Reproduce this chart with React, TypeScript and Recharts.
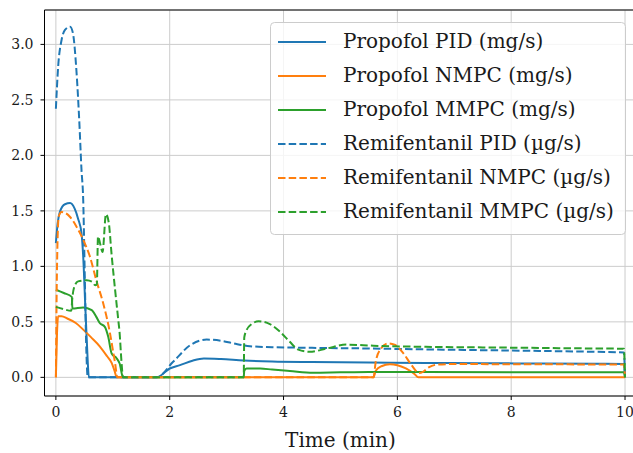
import React from "react";
import { LineChart, Line, XAxis, YAxis, CartesianGrid, ReferenceLine } from "recharts";

// ---- Data (time in min, values per series) ----
const propPidT = [0, 0.03, 0.07, 0.16, 0.25, 0.33, 0.39, 0.45, 0.48, 0.52, 0.55, 0.58, 1.77, 2.0, 2.18, 2.4, 2.6, 2.9, 3.3, 3.8, 4.5, 5.5, 6.5, 7.5, 8.5, 9.5, 9.98, 10];
const propPidV = [1.21, 1.38, 1.49, 1.56, 1.57, 1.52, 1.43, 1.3, 1.09, 0.6, 0.25, 0, 0, 0.08, 0.11, 0.15, 0.17, 0.165, 0.152, 0.143, 0.138, 0.134, 0.13, 0.127, 0.125, 0.122, 0.12, 0];

const propNmpcT = [0, 0.02, 0.04, 0.1, 0.2, 0.35, 0.48, 0.62, 0.77, 0.9, 0.98, 1.03, 1.07, 5.58, 5.62, 5.72, 5.87, 6.0, 6.15, 6.3, 6.37, 10];
const propNmpcV = [0, 0.4, 0.55, 0.55, 0.53, 0.49, 0.43, 0.36, 0.28, 0.19, 0.13, 0.06, 0, 0, 0.06, 0.1, 0.117, 0.11, 0.08, 0.03, 0, 0];

const propMmpcT = [0, 0.14, 0.28, 0.29, 0.48, 0.63, 0.71, 0.77, 0.86, 0.92, 0.98, 1.07, 1.12, 1.18, 3.3, 3.31, 3.35, 3.59, 3.8, 4.11, 4.52, 5.0, 5.5, 6.5, 8, 9.98, 10];
const propMmpcV = [0.79, 0.76, 0.725, 0.62, 0.63, 0.605, 0.545, 0.49, 0.455, 0.365, 0.215, 0.17, 0.125, 0, 0, 0.06, 0.08, 0.08, 0.07, 0.057, 0.041, 0.045, 0.048, 0.048, 0.047, 0.046, 0];

const remiPidT = [0, 0.04, 0.1, 0.16, 0.25, 0.3, 0.36, 0.41, 0.45, 0.48, 0.51, 0.53, 0.56, 1.77, 2.06, 2.36, 2.65, 2.9, 3.12, 3.41, 3.8, 4.5, 5.5, 6.5, 7.5, 8.5, 9.5, 9.98, 10];
const remiPidV = [2.42, 2.8, 3.04, 3.13, 3.16, 3.1, 2.77, 2.32, 1.87, 1.6, 0.85, 0.34, 0, 0, 0.14, 0.29, 0.34, 0.33, 0.306, 0.28, 0.272, 0.266, 0.26, 0.252, 0.245, 0.238, 0.23, 0.225, 0];

const remiNmpcT = [0, 0.02, 0.05, 0.1, 0.25, 0.36, 0.48, 0.6, 0.71, 0.83, 0.95, 1.0, 1.04, 1.08, 5.58, 5.62, 5.7, 5.84, 5.95, 6.1, 6.25, 6.38, 6.45, 6.55, 6.7, 7, 8, 9, 9.98, 10];
const remiNmpcV = [0, 1.0, 1.45, 1.49, 1.445, 1.36, 1.24, 1.085, 0.875, 0.67, 0.4, 0.25, 0.13, 0, 0, 0.14, 0.25, 0.306, 0.295, 0.22, 0.11, 0.04, 0.05, 0.09, 0.115, 0.12, 0.118, 0.117, 0.116, 0];

const remiMmpcT = [0, 0.13, 0.27, 0.29, 0.32, 0.39, 0.54, 0.64, 0.69, 0.72, 0.74, 0.78, 0.82, 0.88, 0.93, 0.98, 1.04, 1.1, 1.12, 1.15, 1.18, 3.3, 3.31, 3.35, 3.44, 3.56, 3.76, 3.94, 4.11, 4.26, 4.46, 4.76, 5.11, 5.58, 6.5, 7.5, 8.5, 9.5, 9.98, 10];
const remiMmpcV = [0.635, 0.615, 0.6, 0.72, 0.81, 0.865, 0.875, 0.86, 0.83, 0.84, 1.27, 1.2, 1.13, 1.47, 1.39, 1.1, 0.79, 0.5, 0.4, 0.16, 0, 0, 0.36, 0.425, 0.48, 0.505, 0.48, 0.41, 0.32, 0.25, 0.23, 0.26, 0.295, 0.285, 0.275, 0.27, 0.265, 0.26, 0.258, 0];

const xTicks = [0, 2, 4, 6, 8, 10];
const yTicks = [0, 0.5, 1.0, 1.5, 2.0, 2.5, 3.0];

const seriesNames = [
  "Propofol PID (mg/s)",
  "Propofol NMPC (mg/s)",
  "Propofol MMPC (mg/s)",
  "Remifentanil PID (µg/s)",
  "Remifentanil NMPC (µg/s)",
  "Remifentanil MMPC (µg/s)",
];

const BLUE = "#1f77b4";
const ORANGE = "#ff7f0e";
const GREEN = "#2ca02c";
const DASH = "7.5 3.2";
const FONT = "'DejaVu Serif', serif";
const TEXT = "#1a1a1a";

const zip = (t: number[], v: number[]) => t.map((x, i) => ({ t: x, v: v[i] }));

const series = [
  { name: seriesNames[0], data: zip(propPidT, propPidV), color: BLUE, dashed: false },
  { name: seriesNames[1], data: zip(propNmpcT, propNmpcV), color: ORANGE, dashed: false },
  { name: seriesNames[2], data: zip(propMmpcT, propMmpcV), color: GREEN, dashed: false },
  { name: seriesNames[3], data: zip(remiPidT, remiPidV), color: BLUE, dashed: true },
  { name: seriesNames[4], data: zip(remiNmpcT, remiNmpcV), color: ORANGE, dashed: true },
  { name: seriesNames[5], data: zip(remiMmpcT, remiMmpcV), color: GREEN, dashed: true },
];

const X_DOMAIN: [number, number] = [-0.2, 10.2];
const Y_DOMAIN: [number, number] = [-0.168, 3.31];

function XTick(props: any) {
  const { x, y, payload } = props;
  return (
    <text x={x} y={y + 12} textAnchor="middle" fontFamily={FONT} fontSize={14} fill={TEXT}>
      {String(payload.value)}
    </text>
  );
}

function YTick(props: any) {
  const { x, y, payload } = props;
  return (
    <text x={x} y={y + 5} textAnchor="end" fontFamily={FONT} fontSize={14} fill={TEXT}>
      {Number(payload.value).toFixed(1)}
    </text>
  );
}

function LegendBox() {
  const w = 355;
  const h = 212;
  return (
    <svg width={w + 2} height={h + 2} style={{ position: "absolute", left: 270, top: 22 }}>
      <rect x={0.5} y={0.5} width={w} height={h} rx={4} ry={4} fill="rgba(255,255,255,0.8)" stroke="#cccccc" strokeWidth={1} />
      {series.map((s, i) => {
        const cy = 20 + i * 34;
        return (
          <g key={s.name}>
            <line x1={8} x2={56} y1={cy} y2={cy} stroke={s.color} strokeWidth={2} strokeDasharray={s.dashed ? DASH : undefined} />
            <text x={73} y={cy + 6} fontFamily={FONT} fontSize={20} fill={TEXT}>
              {s.name}
            </text>
          </g>
        );
      })}
    </svg>
  );
}

export default function App() {
  return (
    <div style={{ position: "absolute", left: 0, top: 0, width: 633, height: 453, overflow: "hidden", background: "#fff" }}>
      <LineChart width={640} height={453} margin={{ top: 10, right: 3.6, left: 0, bottom: 0 }}>
        <CartesianGrid stroke="#cccccc" strokeWidth={1} />
        <XAxis
          dataKey="t"
          type="number"
          domain={X_DOMAIN}
          allowDataOverflow
          ticks={xTicks}
          height={57}
          tickSize={4}
          tickMargin={5}
          stroke="#000"
          tick={<XTick />}
          label={{ value: "Time (min)", position: "insideBottom", offset: 6, style: { fontFamily: FONT, fontSize: 20, fill: TEXT } }}
        />
        <YAxis
          type="number"
          domain={Y_DOMAIN}
          allowDataOverflow
          ticks={yTicks}
          width={44.5}
          tickSize={4}
          tickMargin={7}
          stroke="#000"
          tick={<YTick />}
        />
        <ReferenceLine y={Y_DOMAIN[1]} stroke="#000" strokeWidth={1} />
        <ReferenceLine x={X_DOMAIN[1]} stroke="#000" strokeWidth={1} />
        {series.map((s) => (
          <Line
            key={s.name}
            data={s.data}
            dataKey="v"
            name={s.name}
            type="monotone"
            stroke={s.color}
            strokeWidth={2}
            strokeDasharray={s.dashed ? DASH : undefined}
            dot={false}
            activeDot={false}
            isAnimationActive={false}
          />
        ))}
      </LineChart>
      <LegendBox />
    </div>
  );
}
